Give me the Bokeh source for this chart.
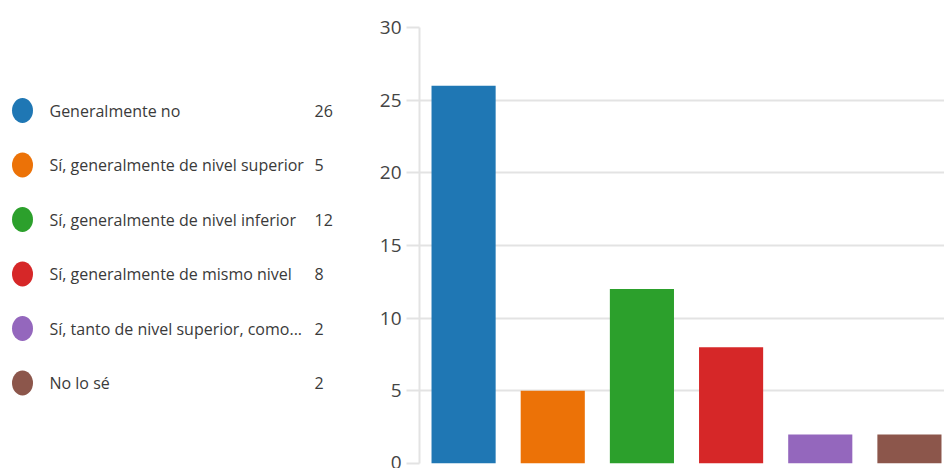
from bokeh.plotting import figure
from bokeh.layouts import row
from bokeh.models import Range1d, FixedTicker, ColumnDataSource
from bokeh.core.properties import value
from bokeh.embed import file_html
from bokeh.resources import INLINE

# Survey answers and counts
categories = [
    "Generalmente no",
    "Sí, generalmente de nivel superior",
    "Sí, generalmente de nivel inferior",
    "Sí, generalmente de mismo nivel",
    "Sí, tanto de nivel superior, como...",
    "No lo sé",
]
counts = [26, 5, 12, 8, 2, 2]
colors = ["#1f77b4", "#ec7207", "#2ca02c", "#d62728", "#9467bd", "#8c564b"]
y_ticks = [0, 5, 10, 15, 20, 25, 30]

FONT = "Open Sans"
TEXT = "#3a3a3a"
GRID = "#e3e3e3"

W, H = 944, 468
TOP, BOTTOM = 27, 463  # plot frame edges shared by both panels

# ---- legend panel (left); its frame lines up with the chart frame ----
LEG_W = 376
leg = figure(width=LEG_W, height=H, x_range=Range1d(0, LEG_W),
             y_range=Range1d(BOTTOM, TOP),
             output_backend="svg", toolbar_location=None,
             min_border=0, outline_line_color=None)
leg.axis.visible = False
leg.grid.visible = False

rows = list(range(len(categories)))
row_y = [110 + 54.5 * i for i in rows]
leg_src = ColumnDataSource(dict(
    y=row_y, label=categories, count=[str(c) for c in counts], color=colors,
))
leg.ellipse(x=22, y="y", width=21, height=25, fill_color="color",
            line_color=None, source=leg_src)
leg.text(x=49, y="y", text="label", text_font=value(FONT), text_font_size="16px",
         text_color=TEXT, text_baseline="middle", text_align="left", source=leg_src)
leg.text(x=314, y="y", text="count", text_font=value(FONT), text_font_size="16px",
         text_color=TEXT, text_baseline="middle", text_align="left", source=leg_src)

# ---- bar chart (right) ----
step = 89.0          # pixels per category slot
frame_w = 524
x0 = -44.0 / step
p = figure(width=W - LEG_W, height=H, output_backend="svg", toolbar_location=None,
           x_range=Range1d(x0, x0 + frame_w / step), y_range=Range1d(0, 30),
           min_border_left=40, min_border_right=0, min_border_top=TOP,
           min_border_bottom=H - BOTTOM, outline_line_color=None)

src = ColumnDataSource(dict(x=rows, top=counts, color=colors))
p.vbar(x="x", top="top", bottom=0, width=64 / step, fill_color="color",
       line_color=None, source=src)

p.xaxis.visible = False
p.xgrid.visible = False
p.ygrid.grid_line_color = GRID
p.ygrid.grid_line_width = 2
p.yaxis.ticker = FixedTicker(ticks=y_ticks)
p.yaxis.axis_line_color = GRID
p.yaxis.axis_line_width = 2
p.yaxis.major_tick_line_color = GRID
p.yaxis.major_tick_line_width = 2
p.yaxis.major_tick_out = 13
p.yaxis.major_tick_in = 0
p.yaxis.minor_tick_line_color = None
p.yaxis.major_label_standoff = 5
p.yaxis.major_label_text_font = FONT
p.yaxis.major_label_text_font_size = "19px"
p.yaxis.major_label_text_color = "#444444"

layout = row(leg, p, spacing=0)
open("out.html", "w").write(file_html(layout, INLINE))
